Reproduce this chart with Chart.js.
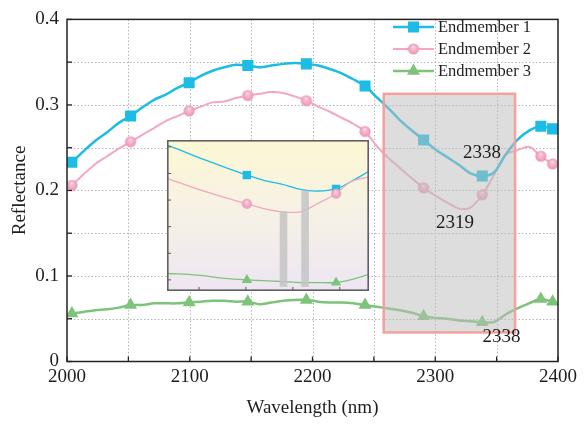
<!DOCTYPE html>
<html><head><meta charset="utf-8">
<script src="https://cdn.jsdelivr.net/npm/chart.js@4.4.0/dist/chart.umd.min.js"></script>
<style>
html,body{margin:0;padding:0;background:#fff;}
#wrap{position:relative;width:586px;height:424px;overflow:hidden;}
#main{position:absolute;left:0;top:0;}
#inset{position:absolute;left:167px;top:140px;}
</style></head><body>
<div id="wrap"><canvas id="main" width="586" height="424"></canvas><canvas id="inset" width="202" height="151"></canvas></div>
<script>
// ---------- data ----------
const wavelengths = [2004.0, 2013.6, 2023.1, 2032.7, 2042.2, 2051.8, 2061.3, 2070.9, 2080.4, 2090.0,
  2099.5, 2109.1, 2118.6, 2128.2, 2137.7, 2147.3, 2156.8, 2166.4, 2175.9, 2185.5,
  2195.0, 2204.6, 2214.1, 2223.7, 2233.2, 2242.8, 2252.3, 2261.9, 2271.4, 2281.0,
  2290.5, 2300.1, 2309.6, 2319.2, 2328.7, 2338.3, 2347.8, 2357.4, 2366.9, 2376.5,
  2386.0, 2395.6];
const endmember1 = [0.233, 0.246, 0.258, 0.268, 0.279, 0.287, 0.297, 0.306, 0.312, 0.320,
  0.326, 0.334, 0.340, 0.344, 0.347, 0.346, 0.344, 0.346, 0.348, 0.349,
  0.348, 0.346, 0.342, 0.337, 0.330, 0.322, 0.309, 0.296, 0.282, 0.270,
  0.259, 0.248, 0.239, 0.230, 0.220, 0.217, 0.221, 0.242, 0.259, 0.270,
  0.275, 0.272];
const endmember2 = [0.206, 0.219, 0.231, 0.240, 0.249, 0.257, 0.265, 0.273, 0.281, 0.287,
  0.293, 0.298, 0.303, 0.304, 0.308, 0.311, 0.313, 0.315, 0.314, 0.310,
  0.305, 0.298, 0.292, 0.285, 0.278, 0.269, 0.252, 0.238, 0.226, 0.214,
  0.203, 0.194, 0.186, 0.179, 0.180, 0.195, 0.218, 0.242, 0.247, 0.251,
  0.240, 0.231];
const endmember3 = [0.056, 0.058, 0.060, 0.061, 0.063, 0.066, 0.066, 0.068, 0.068, 0.068,
  0.069, 0.070, 0.071, 0.071, 0.070, 0.070, 0.067, 0.069, 0.071, 0.072,
  0.072, 0.070, 0.069, 0.069, 0.068, 0.066, 0.064, 0.062, 0.060, 0.057,
  0.053, 0.051, 0.050, 0.048, 0.047, 0.046, 0.046, 0.055, 0.062, 0.068,
  0.073, 0.070];
const seriesNames = ['Endmember 1', 'Endmember 2', 'Endmember 3'];
const xTickLabels = [2000, 2100, 2200, 2300, 2400];
const yTickLabels = [0, 0.1, 0.2, 0.3, 0.4];
const annotationTexts = ['2338', '2319', '2338'];

// inset data
const insetX = [2117, 2148, 2177, 2201, 2219, 2238, 2258, 2276, 2296, 2311, 2330];
const insetE1 = [0.303, 0.281, 0.262, 0.247, 0.237, 0.230, 0.220, 0.217, 0.221, 0.234, 0.253];
const insetE2 = [0.240, 0.221, 0.205, 0.193, 0.184, 0.178, 0.178, 0.193, 0.212, 0.234, 0.243];
const insetE3 = [0.062, 0.059, 0.053, 0.050, 0.0485, 0.047, 0.045, 0.045, 0.045, 0.050, 0.060];
const insetBarX = [2240, 2263];
const insetBarTop = [0.178, 0.217];
const insetBarBottom = [0.0375, 0.0375];

// ---------- config (layout / style) ----------
const FONT = '"Liberation Serif", "Times New Roman", serif';
const TXT = '#1e1e1e';
const C1 = '#1cbce6', C2 = '#f3a7c1', C3 = '#7dc47a';
const highlightBox = {x0: 2258, x1: 2365, y0: 0.034, y1: 0.313};
const annotationPos = [{x: 2338, y: 0.244}, {x: 2316, y: 0.162}, {x: 2354, y: 0.029}];
const markerStep = 5;
const insetMarkerIdx = [3, 8];

function makeSphere(r) {
  const s = Math.ceil(r * 2 + 2);
  const c = document.createElement('canvas');
  c.width = s; c.height = s;
  const g = c.getContext('2d');
  const cx = s / 2, cy = s / 2;
  const grad = g.createRadialGradient(cx - r * 0.05, cy - r * 0.42, 0, cx, cy, r);
  grad.addColorStop(0, '#fff6f9');
  grad.addColorStop(0.22, '#f8c6d7');
  grad.addColorStop(0.7, '#f2a5c0');
  grad.addColorStop(1, '#ea94b3');
  g.fillStyle = grad;
  g.beginPath(); g.arc(cx, cy, r, 0, Math.PI * 2); g.fill();
  return c;
}
const sphereBig = makeSphere(5.6);
const sphereSmall = makeSphere(5.0);

const isMarker = (ctx) => ctx.dataIndex % markerStep === 0 || ctx.dataIndex === wavelengths.length - 1;
const pts = (arr) => wavelengths.map((w, i) => ({x: w, y: arr[i]}));

function drawMarker(ctx, kind, x, y, color, s) {
  ctx.save();
  ctx.fillStyle = color;
  if (kind === 'rect') {
    ctx.fillRect(x - s / 2, y - s / 2, s, s);
  } else if (kind === 'tri') {
    const r = s;
    ctx.beginPath();
    ctx.moveTo(x, y - r);
    ctx.lineTo(x + r * 0.866, y + r * 0.5);
    ctx.lineTo(x - r * 0.866, y + r * 0.5);
    ctx.closePath(); ctx.fill();
  } else {
    ctx.drawImage(sphereBig, x - sphereBig.width / 2, y - sphereBig.height / 2);
  }
  ctx.restore();
}

const mainDeco = {
  id: 'mainDeco',
  beforeDatasetsDraw(chart) {
    const {ctx, chartArea: a, scales: {x, y}} = chart;
    ctx.save();
    ctx.strokeStyle = '#b4b4b4';
    ctx.lineWidth = 1;
    ctx.setLineDash([1.5, 2]);
    x.ticks.forEach(t => {
      const px = Math.round(x.getPixelForValue(t.value)) + 0.5;
      if (px <= a.left + 1 || px >= a.right - 1) return;
      ctx.beginPath(); ctx.moveTo(px, a.top); ctx.lineTo(px, a.bottom); ctx.stroke();
    });
    y.ticks.forEach(t => {
      const py = Math.round(y.getPixelForValue(t.value)) + 0.5;
      if (py <= a.top + 1 || py >= a.bottom - 1) return;
      ctx.beginPath(); ctx.moveTo(a.left, py); ctx.lineTo(a.right, py); ctx.stroke();
    });
    ctx.restore();
  },
  afterDatasetsDraw(chart) {
    const {ctx, scales: {x, y}} = chart;
    const bx0 = x.getPixelForValue(highlightBox.x0), bx1 = x.getPixelForValue(highlightBox.x1);
    const by0 = y.getPixelForValue(highlightBox.y1), by1 = y.getPixelForValue(highlightBox.y0);
    ctx.save();
    ctx.fillStyle = 'rgba(188,190,188,0.52)';
    ctx.fillRect(bx0, by0, bx1 - bx0, by1 - by0);
    ctx.strokeStyle = '#f4a09c';
    ctx.lineWidth = 2.5;
    ctx.strokeRect(bx0, by0, bx1 - bx0, by1 - by0);
    ctx.fillStyle = TXT;
    ctx.font = '19px ' + FONT;
    ctx.textAlign = 'center';
    ctx.textBaseline = 'middle';
    annotationTexts.forEach((t, i) => {
      ctx.fillText(t, x.getPixelForValue(annotationPos[i].x), y.getPixelForValue(annotationPos[i].y));
    });
    ctx.restore();
  },
  afterDraw(chart) {
    const {ctx, chartArea: a, scales: {x, y}} = chart;
    ctx.save();
    // inward ticks
    ctx.strokeStyle = '#222';
    ctx.lineWidth = 1.3;
    x.ticks.forEach(t => {
      const px = x.getPixelForValue(t.value);
      ctx.beginPath(); ctx.moveTo(px, a.bottom); ctx.lineTo(px, a.bottom - 5); ctx.stroke();
    });
    y.ticks.forEach(t => {
      const py = y.getPixelForValue(t.value);
      ctx.beginPath(); ctx.moveTo(a.left, py); ctx.lineTo(a.left + 5, py); ctx.stroke();
    });
    // frame
    ctx.lineWidth = 1.5;
    ctx.strokeRect(a.left, a.top, a.right - a.left, a.bottom - a.top);
    // legend
    const rows = [27, 49, 71];
    const cols = [C1, C2, C3];
    const widths = [2.5, 2, 2.5];
    const kinds = ['rect', 'sphere', 'tri'];
    ctx.font = '16.5px ' + FONT;
    ctx.textAlign = 'left';
    ctx.textBaseline = 'middle';
    seriesNames.forEach((n, i) => {
      ctx.strokeStyle = cols[i];
      ctx.lineWidth = widths[i];
      ctx.beginPath(); ctx.moveTo(393, rows[i]); ctx.lineTo(434, rows[i]); ctx.stroke();
      drawMarker(ctx, kinds[i], 413.5, rows[i], cols[i], kinds[i] === 'rect' ? 11 : 7.5);
      ctx.fillStyle = TXT;
      ctx.fillText(n, 438, rows[i] + 1);
    });
    ctx.restore();
  }
};

new Chart(document.getElementById('main'), {
  type: 'line',
  data: {
    datasets: [
      {label: seriesNames[0], data: pts(endmember1), borderColor: C1, borderWidth: 2.5, tension: 0.3,
       pointStyle: 'rect', pointRadius: c => isMarker(c) ? 7.8 : 0, pointBackgroundColor: C1, pointBorderWidth: 0},
      {label: seriesNames[1], data: pts(endmember2), borderColor: C2, borderWidth: 2, tension: 0.3,
       pointStyle: sphereBig, pointRadius: c => isMarker(c) ? 5.6 : 0, pointBorderWidth: 0},
      {label: seriesNames[2], data: pts(endmember3), borderColor: C3, borderWidth: 2.5, tension: 0.3,
       pointStyle: 'triangle', pointRadius: c => isMarker(c) ? 7.5 : 0, pointBackgroundColor: C3, pointBorderWidth: 0}
    ]
  },
  options: {
    responsive: false,
    animation: false,
    events: [],
    layout: {padding: {left: 0, top: 14, right: 28, bottom: 0}},
    plugins: {legend: {display: false}, tooltip: {enabled: false}},
    scales: {
      x: {
        type: 'linear', min: 2000, max: 2400,
        grid: {display: false, drawTicks: false}, border: {display: false},
        ticks: {
          stepSize: 50, autoSkip: false, maxRotation: 0, padding: 4, color: TXT,
          font: {family: FONT, size: 19},
          callback: v => xTickLabels.some(t => Math.abs(t - v) < 1e-6) ? String(v) : ''
        },
        title: {display: true, text: 'Wavelength (nm)', color: TXT, font: {family: FONT, size: 19}, padding: {top: 4, bottom: 4.6}},
        afterFit: s => { s.height = 62.5; }
      },
      y: {
        min: 0, max: 0.4,
        grid: {display: false, drawTicks: false}, border: {display: false},
        ticks: {
          stepSize: 0.05, autoSkip: false, padding: 8, color: TXT,
          font: {family: FONT, size: 19},
          callback: v => {
            const m = yTickLabels.find(t => Math.abs(t - v) < 1e-6);
            return m === undefined ? '' : String(m);
          }
        },
        title: {display: true, text: 'Reflectance', color: TXT, font: {family: FONT, size: 19}, padding: {top: 8.6, bottom: 4}},
        afterFit: s => { s.width = 67; }
      }
    }
  },
  plugins: [mainDeco]
});

// ---------- inset ----------
const insetDeco = {
  id: 'insetDeco',
  beforeDraw(chart) {
    const {ctx, width, height} = chart;
    const g = ctx.createLinearGradient(0, 0, 0, height);
    g.addColorStop(0, '#fcf8d3');
    g.addColorStop(0.5, '#f6f1e6');
    g.addColorStop(1, '#eee5f3');
    ctx.save(); ctx.fillStyle = g; ctx.fillRect(0, 0, width, height); ctx.restore();
  },
  afterDraw(chart) {
    const {ctx, chartArea: a, width, height, scales: {x, y}} = chart;
    ctx.save();
    ctx.strokeStyle = '#555';
    ctx.lineWidth = 1;
    [0.05, 0.10, 0.15, 0.20, 0.25, 0.30].forEach(v => {
      const py = y.getPixelForValue(v);
      ctx.beginPath(); ctx.moveTo(a.left, py); ctx.lineTo(a.left + 3, py); ctx.stroke();
    });
    [2150, 2200, 2250, 2300].forEach(v => {
      const px = x.getPixelForValue(v);
      ctx.beginPath(); ctx.moveTo(px, a.bottom); ctx.lineTo(px, a.bottom - 3); ctx.stroke();
    });
    ctx.strokeStyle = '#606060';
    ctx.lineWidth = 1.6;
    ctx.strokeRect(0.8, 0.8, width - 1.6, height - 1.6);
    ctx.restore();
  }
};
const ipts = (arr) => insetX.map((w, i) => ({x: w, y: arr[i]}));
const isInsetMarker = c => insetMarkerIdx.includes(c.dataIndex);

new Chart(document.getElementById('inset'), {
  type: 'line',
  data: {
    datasets: [
      {type: 'bar', data: insetBarX.map((v, i) => ({x: v, y: [insetBarBottom[i], insetBarTop[i]]})),
       backgroundColor: 'rgba(196,196,196,0.85)', barThickness: 7, order: 0},
      {data: ipts(insetE2), borderColor: C2, borderWidth: 1.3, tension: 0.3, order: 1,
       pointStyle: sphereSmall, pointRadius: c => isInsetMarker(c) ? 5 : 0, pointBorderWidth: 0},
      {data: ipts(insetE1), borderColor: C1, borderWidth: 1.3, tension: 0.3, order: 2,
       pointStyle: 'rect', pointRadius: c => isInsetMarker(c) ? 5.9 : 0, pointBackgroundColor: C1, pointBorderWidth: 0},
      {data: ipts(insetE3), borderColor: C3, borderWidth: 1.3, tension: 0.3, order: 3,
       pointStyle: 'triangle', pointRadius: c => isInsetMarker(c) ? 6 : 0, pointBackgroundColor: C3, pointBorderWidth: 0}
    ]
  },
  options: {
    responsive: false,
    animation: false,
    events: [],
    layout: {padding: 1, autoPadding: false},
    plugins: {legend: {display: false}, tooltip: {enabled: false}},
    scales: {
      x: {type: 'linear', min: 2117, max: 2330, display: false, offset: false},
      y: {min: 0.031, max: 0.311, display: false}
    }
  },
  plugins: [insetDeco]
});
</script>
</body></html>
